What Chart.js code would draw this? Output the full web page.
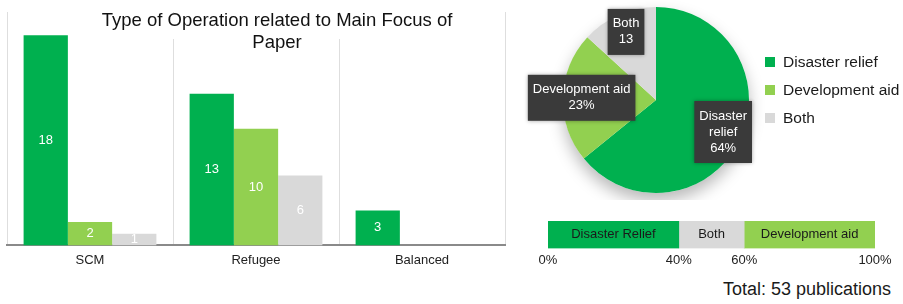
<!DOCTYPE html>
<html>
<head>
<meta charset="utf-8">
<script src="https://cdn.jsdelivr.net/npm/chart.js@4.4.1/dist/chart.umd.min.js"></script>
<style>
  body { margin: 0; background: #fff; font-family: "Liberation Sans", Arial, sans-serif; }
  #wrap { position: relative; width: 903px; height: 304px; overflow: hidden; }
  canvas { position: absolute; }
  #barChart { left: 0; top: 0; }
  #pieChart { left: 520px; top: 0; }
  #scaleChart { left: 520px; top: 210px; }
  .legend-item { position: absolute; left: 765px; height: 18px; line-height: 18px; font-size: 15.5px; color: #1a1a1a; white-space: nowrap; }
  .legend-item span { display: inline-block; width: 10px; height: 10px; margin-right: 8px; vertical-align: 0; }
  #total { position: absolute; right: 12px; top: 279px; font-size: 18px; color: #1a1a1a; }
</style>
</head>
<body>
<div id="wrap">
  <canvas id="barChart" width="515" height="275"></canvas>
  <canvas id="pieChart" width="383" height="200"></canvas>
  <canvas id="scaleChart" width="383" height="62"></canvas>
  <div id="legend"></div>
  <div id="total"></div>
</div>
<script>
// --- datos ---
const focusCategories = ['SCM', 'Refugee', 'Balanced'];
const operationTypes = ['Disaster relief', 'Development aid', 'Both'];
const disasterReliefCounts = [18, 13, 3];
const developmentAidCounts = [2, 10, 0];
const bothCounts = [1, 6, 0];

const pieValues = [34, 12, 7];
const pieLabelLines = [['Disaster', 'relief', '64%'], ['Development aid', '23%'], ['Both', '13']];

const scaleSegments = ['Disaster Relief', 'Both', 'Development aid'];
const scaleShares = [40, 20, 40];
const scaleTicks = [0, 40, 60, 100];

const typeColors = ['#00b04f', '#92d050', '#d9d9d9'];
const scaleColors = ['#00b04f', '#d9d9d9', '#92d050'];

const FONT = '"Liberation Sans", Arial, sans-serif';
Chart.defaults.font.family = FONT;

// --- plugins ---
const barValueLabels = {
  id: 'barValueLabels',
  afterDatasetsDraw(chart) {
    const ctx = chart.ctx;
    ctx.save();
    ctx.font = '13px ' + FONT;
    ctx.fillStyle = '#fff';
    ctx.textAlign = 'center';
    ctx.textBaseline = 'middle';
    chart.data.datasets.forEach((ds, i) => {
      chart.getDatasetMeta(i).data.forEach((bar, j) => {
        const v = ds.data[j];
        if (!v) return;
        ctx.fillText(v, bar.x, (bar.y + bar.base) / 2);
      });
    });
    ctx.restore();
  }
};

const barTitle = {
  id: 'barTitle',
  afterDraw(chart) {
    const ctx = chart.ctx;
    ctx.save();
    // fondo blanco del titulo (tapa las lineas verticales)
    ctx.fillStyle = '#fff';
    ctx.fillRect(95, chart.chartArea.top + 1, 365, 26);
    ctx.fillStyle = '#111';
    ctx.font = '18.5px ' + FONT;
    ctx.textAlign = 'center';
    ctx.textBaseline = 'middle';
    ctx.fillText('Type of Operation related to Main Focus of', 277, 21);
    ctx.fillText('Paper', 277, 43);
    ctx.restore();
  }
};

const pieShadow = {
  id: 'pieShadow',
  beforeDatasetsDraw(chart) {
    const arc = chart.getDatasetMeta(0).data[0];
    if (!arc) return;
    const ctx = chart.ctx;
    ctx.save();
    ctx.shadowColor = 'rgba(0,0,0,0.28)';
    ctx.shadowBlur = 16;
    ctx.shadowOffsetY = 8;
    ctx.fillStyle = '#fff';
    ctx.beginPath();
    ctx.arc(arc.x, arc.y, arc.outerRadius, 0, Math.PI * 2);
    ctx.fill();
    ctx.restore();
  }
};

const pieLabels = {
  id: 'pieLabels',
  afterDatasetsDraw(chart) {
    const ctx = chart.ctx;
    ctx.save();
    ctx.font = '13px ' + FONT;
    ctx.textAlign = 'center';
    ctx.textBaseline = 'middle';
    chart.getDatasetMeta(0).data.forEach((arc, i) => {
      const mid = (arc.startAngle + arc.endAngle) / 2;
      const cx = arc.x + Math.cos(mid) * arc.outerRadius * 0.8;
      const cy = arc.y + Math.sin(mid) * arc.outerRadius * 0.8;
      const lines = pieLabelLines[i];
      const w = Math.max(...lines.map(l => ctx.measureText(l).width)) + 10;
      const h = lines.length * 16 + 14;
      ctx.shadowColor = 'rgba(0,0,0,0.35)';
      ctx.shadowBlur = 4;
      ctx.fillStyle = '#3a3a3a';
      ctx.fillRect(cx - w / 2, cy - h / 2, w, h);
      ctx.shadowColor = 'transparent';
      ctx.fillStyle = '#fff';
      lines.forEach((l, k) => {
        ctx.fillText(l, cx, cy - (lines.length - 1) * 8 + k * 16);
      });
    });
    ctx.restore();
  }
};

const segmentNames = {
  id: 'segmentNames',
  afterDatasetsDraw(chart) {
    const ctx = chart.ctx;
    ctx.save();
    ctx.font = '13px ' + FONT;
    ctx.fillStyle = '#1a1a1a';
    ctx.textAlign = 'center';
    ctx.textBaseline = 'middle';
    chart.data.datasets.forEach((ds, i) => {
      const bar = chart.getDatasetMeta(i).data[0];
      ctx.fillText(ds.label, (bar.x + bar.base) / 2, bar.y);
    });
    ctx.restore();
  }
};

// --- grafico de barras ---
new Chart(document.getElementById('barChart'), {
  type: 'bar',
  data: {
    labels: focusCategories,
    datasets: [disasterReliefCounts, developmentAidCounts, bothCounts].map((d, i) => ({
      label: operationTypes[i],
      data: d,
      backgroundColor: typeColors[i],
      borderWidth: 0,
      barPercentage: 1,
      categoryPercentage: 0.8
    }))
  },
  options: {
    responsive: false,
    animation: false,
    layout: { padding: { left: 7, right: 10, top: 12, bottom: 0 } },
    plugins: { legend: { display: false }, tooltip: { enabled: false } },
    scales: {
      x: {
        grid: { color: '#dedede', drawTicks: false, offset: true },
        border: { color: '#8a8a8a', width: 2 },
        ticks: { color: '#222', font: { size: 13 }, padding: 7 }
      },
      y: { display: false, min: 0, max: 20 }
    }
  },
  plugins: [barValueLabels, barTitle]
});

// --- torta ---
new Chart(document.getElementById('pieChart'), {
  type: 'pie',
  data: {
    labels: operationTypes,
    datasets: [{ data: pieValues, backgroundColor: typeColors, borderWidth: 0 }]
  },
  options: {
    responsive: false,
    animation: false,
    layout: { padding: { left: 43, right: 154, top: 7, bottom: 7 } },
    plugins: { legend: { display: false }, tooltip: { enabled: false } }
  },
  plugins: [pieShadow, pieLabels]
});

// leyenda de la torta
const legend = document.getElementById('legend');
operationTypes.forEach((name, i) => {
  const item = document.createElement('div');
  item.className = 'legend-item';
  item.style.top = (53 + i * 28) + 'px';
  item.innerHTML = '<span style="background:' + typeColors[i] + '"></span>' + name;
  legend.appendChild(item);
});

// --- barra de escala ---
new Chart(document.getElementById('scaleChart'), {
  type: 'bar',
  data: {
    labels: [''],
    datasets: scaleSegments.map((name, i) => ({
      label: name,
      data: [scaleShares[i]],
      backgroundColor: scaleColors[i],
      borderWidth: 0,
      barPercentage: 1,
      categoryPercentage: 1
    }))
  },
  options: {
    indexAxis: 'y',
    responsive: false,
    animation: false,
    layout: { padding: { left: 28, right: 28, top: 11, bottom: 0 } },
    plugins: { legend: { display: false }, tooltip: { enabled: false } },
    scales: {
      x: {
        stacked: true, min: 0, max: 100,
        grid: { display: false, drawTicks: false },
        border: { display: false },
        afterBuildTicks: axis => { axis.ticks = scaleTicks.map(v => ({ value: v })); },
        ticks: { callback: v => v + '%', color: '#222', font: { size: 13 }, padding: 4, maxRotation: 0, autoSkip: false }
      },
      y: { stacked: true, display: false }
    }
  },
  plugins: [segmentNames]
});

const total = [...disasterReliefCounts, ...developmentAidCounts, ...bothCounts].reduce((a, b) => a + b, 0);
document.getElementById('total').textContent = 'Total: ' + total + ' publications';
</script>
</body>
</html>
